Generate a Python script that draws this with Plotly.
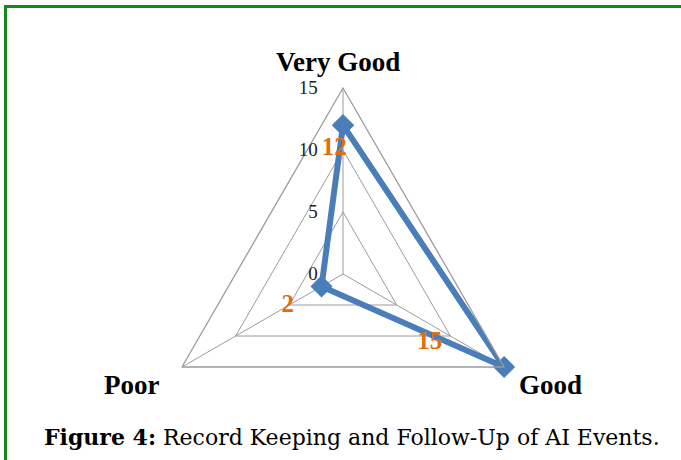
import plotly.graph_objects as go

# Survey result: record keeping and follow-up of AI events
categories = ["Very Good", "Good", "Poor"]
counts = [12, 15, 2]
radial_ticks = [0, 5, 10, 15]
caption_label = "Figure 4:"
caption_text = "Record Keeping and Follow-Up of AI Events."

# placement of each value label: radius (data units), angle clockwise from top
label_r = [10.1, 8.93, 5.13]
label_theta = [356, 128.4, 240.4]

W, H = 681, 460
CX, CY, R = 343, 274, 186          # radar centre and outer radius in pixels

BLUE = "#4A7EBB"
ORANGE = "#E46C0A"
GRID = "#9C9C9C"
GREEN = "#13891A"
SERIF = "Liberation Serif"

dom_x = [(CX - R) / W, (CX + R) / W]
dom_y = [(H - CY - R) / H, (H - CY + R) / H]

fig = go.Figure()

# value series, closed back to the first category
fig.add_trace(go.Scatterpolar(
    r=counts + counts[:1],
    theta=categories + categories[:1],
    mode="lines+markers",
    line=dict(color=BLUE, width=6),
    marker=dict(symbol="diamond", size=17, color=BLUE),
    cliponaxis=False,
    showlegend=False,
    hoverinfo="skip",
))

# value labels on an overlaid numeric polar subplot
fig.add_trace(go.Scatterpolar(
    r=label_r,
    theta=label_theta,
    mode="text",
    text=[str(v) for v in counts],
    textposition="middle center",
    textfont=dict(family=SERIF, size=25, color=ORANGE, weight="bold"),
    cliponaxis=False,
    showlegend=False,
    hoverinfo="skip",
    subplot="polar2",
))

# category names around the radar
cat_labels = [
    dict(x=338, y=62, xanchor="center"),   # Very Good
    dict(x=517, y=385, xanchor="left"),    # Good
    dict(x=161, y=385, xanchor="right"),   # Poor
]
annotations = [
    dict(text=name, x=p["x"] / W, y=1 - p["y"] / H,
         xref="paper", yref="paper", xanchor=p["xanchor"], yanchor="middle",
         showarrow=False,
         font=dict(family=SERIF, size=27, color="black", weight="bold"))
    for name, p in zip(categories, cat_labels)
]
annotations.append(dict(
    text=f"<b>{caption_label}</b> {caption_text}",
    x=351.5 / W, y=1 - 437 / H,
    xref="paper", yref="paper",
    xanchor="center", yanchor="middle",
    showarrow=False,
    font=dict(family="DejaVu Serif", size=22, color="black"),
))

fig.update_layout(
    width=W, height=H,
    margin=dict(l=0, r=0, t=0, b=0),
    paper_bgcolor="white",
    plot_bgcolor="white",
    polar=dict(
        domain=dict(x=dom_x, y=dom_y),
        bgcolor="rgba(0,0,0,0)",
        gridshape="linear",
        radialaxis=dict(
            range=[0, 15],
            tickvals=radial_ticks,
            ticktext=[str(t) for t in radial_ticks],
            angle=90,
            side="counterclockwise",
            showline=False,
            ticks="outside",
            ticklen=18,
            tickcolor="rgba(0,0,0,0)",
            gridcolor=GRID,
            gridwidth=1.3,
            tickangle=90,
            tickfont=dict(family=SERIF, size=19, color="#222"),
        ),
        angularaxis=dict(
            type="category",
            categoryarray=categories,
            rotation=90,
            direction="clockwise",
            showline=True,
            linecolor=GRID,
            linewidth=1.3,
            gridcolor=GRID,
            gridwidth=1.3,
            ticks="",
            showticklabels=False,
        ),
    ),
    polar2=dict(
        domain=dict(x=dom_x, y=dom_y),
        bgcolor="rgba(0,0,0,0)",
        radialaxis=dict(range=[0, 15], visible=False),
        angularaxis=dict(rotation=90, direction="clockwise", visible=False),
    ),
    annotations=annotations,
    shapes=[
        dict(type="line", xref="paper", yref="paper",
             x0=5.5 / W, x1=5.5 / W, y0=0, y1=1 - 5 / H,
             line=dict(color=GREEN, width=3)),
        dict(type="line", xref="paper", yref="paper",
             x0=4 / W, x1=1, y0=1 - 6.5 / H, y1=1 - 6.5 / H,
             line=dict(color=GREEN, width=3)),
    ],
)

fig.write_html("out.html")
